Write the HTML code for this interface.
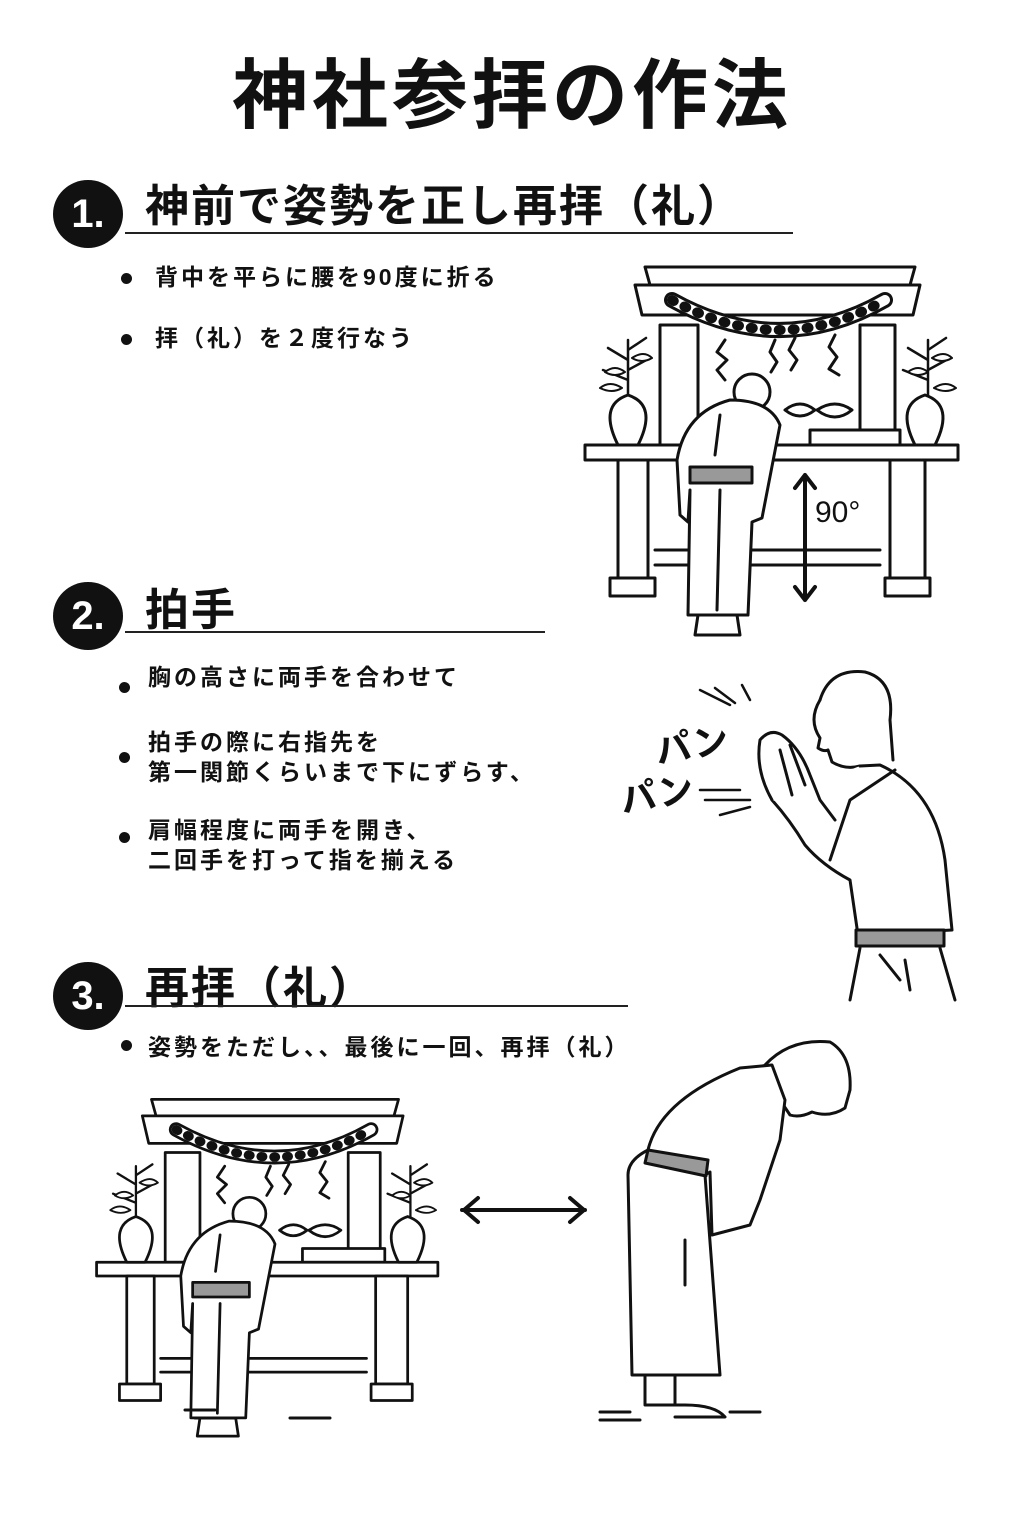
<!DOCTYPE html>
<html><head><meta charset="utf-8"><style>
body{margin:0;width:1024px;height:1536px;background:#fff;position:relative;overflow:hidden;font-family:"Liberation Sans","Noto Sans CJK JP",sans-serif;color:#111}
.t{position:absolute;white-space:nowrap}
.h1{left:0;width:1024px;text-align:center;top:34px;font-size:76px;font-weight:bold;letter-spacing:4px}
.num{position:absolute;width:70px;height:68px;border-radius:50%;background:#111;color:#fff;font-size:40px;font-weight:bold;text-align:center;line-height:68px}
.h2{font-size:44px;font-weight:bold;letter-spacing:2px}
.line{position:absolute;height:2px;background:#222}
.b{font-size:23px;font-weight:bold;letter-spacing:3px;line-height:30px}
.dot{position:absolute;width:11px;height:11px;border-radius:50%;background:#111}
svg{position:absolute;left:0;top:0}
</style></head><body>
<div class="t h1">神社参拝の作法</div>

<div class="num" style="left:53px;top:180px">1.</div>
<div class="t h2" style="left:145px;top:170px">神前で姿勢を正し再拝（礼）</div>
<div class="line" style="left:125px;top:232px;width:668px"></div>
<div class="dot" style="left:121px;top:273px"></div><div class="t b" style="left:155px;top:262px">背中を平らに腰を90度に折る</div>
<div class="dot" style="left:121px;top:334px"></div><div class="t b" style="left:155px;top:323px">拝（礼）を２度行なう</div>

<div class="num" style="left:53px;top:582px">2.</div>
<div class="t h2" style="left:145px;top:574px">拍手</div>
<div class="line" style="left:125px;top:631px;width:420px"></div>
<div class="dot" style="left:119px;top:682px"></div><div class="t b" style="left:148px;top:662px">胸の高さに両手を合わせて</div>
<div class="dot" style="left:119px;top:752px"></div><div class="t b" style="left:148px;top:727px">拍手の際に右指先を<br>第一関節くらいまで下にずらす、</div>
<div class="dot" style="left:119px;top:832px"></div><div class="t b" style="left:148px;top:815px">肩幅程度に両手を開き、<br>二回手を打って指を揃える</div>

<div class="num" style="left:53px;top:962px">3.</div>
<div class="t h2" style="left:145px;top:952px">再拝（礼）</div>
<div class="line" style="left:125px;top:1005px;width:503px"></div>
<div class="dot" style="left:121px;top:1040px"></div><div class="t b" style="left:148px;top:1032px">姿勢をただし、、最後に一回、再拝（礼）</div>

<svg width="1024" height="1536" viewBox="0 0 1024 1536" fill="none" stroke="#111" stroke-width="3" stroke-linecap="round" stroke-linejoin="round">
<defs>
<g id="shrine">
 <path d="M65 7 H335 L330 25 H70 Z" fill="#fff"/>
 <path d="M55 25 H340 L333 55 H62 Z" fill="#fff"/>
 <rect x="80" y="65" width="38" height="120" fill="#fff"/>
 <rect x="280" y="65" width="35" height="120" fill="#fff"/>
 <path d="M92 40 Q200 100 305 40" stroke-width="16" stroke="#111"/>
 <path d="M92 40 Q200 100 305 40" stroke-width="10" stroke="#fff"/>
 <path d="M92 40 Q200 100 305 40" stroke-width="10" stroke="#111" stroke-dasharray="2 12"/>
 <path d="M145 80 l-8 12 l10 8 l-10 10 l8 10 M195 80 l-5 12 l7 10 l-6 10 M215 78 l-6 12 l8 10 l-6 10 M255 75 l-6 12 l8 10 l-8 12 l10 6"/>
 <path d="M205 150 q15-12 30 0 q-15 12-30 0 M237 150 q18-12 35 0 q-17 14-35 0"/>
 <rect x="230" y="170" width="90" height="15" fill="#fff"/>
 <rect x="5" y="185" width="373" height="15" fill="#fff"/>
 <rect x="38" y="200" width="30" height="118" fill="#fff"/><rect x="310" y="200" width="35" height="118" fill="#fff"/>
 <path d="M30 318 h45 v18 h-45z M305 318 h45 v18 h-45z" fill="#fff"/>
 <path d="M75 290 H300 M75 305 H300"/>
 <path d="M38 185 q-20-40 10-50 q30 10 10 50 z" fill="#fff"/>
 <path d="M335 185 q-20-40 10-50 q30 10 10 50 z" fill="#fff"/>
 <path d="M48 135 V80 M48 120 l-25-10 M48 110 l22-12 M48 100 l-20-12 M48 90 l18-12 M348 135 V80 M348 120 l-25-10 M348 110 l22-12 M348 100 l-20-12 M348 90 l18-12" stroke-width="2.5"/>
 <path d="M25 112 q10-8 20 0 q-10 6-20 0 M52 98 q12-8 20 0 q-10 6-20 0 M328 112 q10-8 20 0 q-10 6-20 0 M352 98 q12-8 20 0 q-10 6-20 0 M20 128 q10-8 22 0 q-10 6-22 0 M354 128 q12-8 22 0 q-10 6-22 0" fill="#fff" stroke-width="2"/>
 <circle cx="172" cy="132" r="18" fill="#fff"/>
 <path d="M150 140 Q105 152 97 200 L100 255 L108 262 L110 230 L108 355 L168 355 L172 262 L182 258 L200 165 Q190 140 150 140 Z" fill="#fff"/>
 <rect x="110" y="207" width="62" height="16" fill="#999"/>
 <path d="M140 155 l-5 40 M140 230 l-3 120 M118 355 l-3 20 h45 l-3-20"/>
</g>
</defs>
<use href="#shrine" transform="translate(580,260)"/>
<path d="M805 475 V600 M795 488 l10-13 l10 13 M795 587 l10 13 l10-13" stroke-width="4"/>
<text x="815" y="522" font-size="30" fill="#111" stroke="none" font-family="Liberation Sans">90°</text>
<use href="#shrine" transform="translate(92,1093) scale(0.915)"/>

<path d="M820 700 Q830 668 865 672 Q895 680 890 720 L893 760" fill="none"/>
<path d="M820 700 Q808 720 820 738 L818 748 Q824 752 828 750 L832 762 Q845 770 860 766" />
<path d="M860 766 L880 765 Q935 790 945 860 L952 930 L858 935 L850 880 Q822 865 805 845 Q790 820 772 800" fill="#fff"/>
<path d="M772 800 Q755 770 760 740 Q770 728 782 735 Q800 748 810 775 L820 800 L835 820" fill="#fff"/>
<path d="M790 745 l15 40 M780 750 l12 45 M895 770 L850 800 L830 860"/>
<rect x="856" y="930" width="88" height="16" fill="#999"/>
<path d="M860 948 L850 1000 M940 948 L955 1000 M880 955 l20 25 M905 960 l5 30"/>
<path d="M700 690 l30 15 M715 688 l20 15 M742 685 l8 15 M700 790 h40 M705 800 h45 M720 815 l30-8" stroke-width="2.5"/>
<text x="655" y="758" font-size="36" font-weight="bold" fill="#111" stroke="none" transform="rotate(-10 690 745)" font-family="Noto Sans CJK JP">パン</text>
<text x="620" y="808" font-size="36" font-weight="bold" fill="#111" stroke="none" transform="rotate(-10 650 795)" font-family="Noto Sans CJK JP">パン</text>

<path d="M462 1210 H585 M478 1198 l-14 12 l14 12 M570 1198 l14 12 l-14 12" stroke-width="4"/>

<path d="M765 1065 Q790 1038 830 1042 Q852 1055 850 1090 L845 1108 Q830 1118 812 1112 Q800 1118 790 1115 L780 1100" fill="#fff"/>
<path d="M648 1150 Q660 1100 740 1068 L772 1065 L785 1100 L780 1140 L760 1200 L750 1225 L712 1235 L710 1172 L705 1175 L720 1375 L632 1375 L628 1175 Q628 1160 648 1150 Z" fill="#fff"/>
<path d="M648 1150 L708 1160 L706 1176 L645 1163 Z" fill="#999"/>
<path d="M645 1375 v30 h30 v-30 M675 1375 v30 h10 q30 0 40 12 h-50 M600 1412 h30 M600 1420 h40 M730 1412 h30 M685 1240 v45"/>
<path d="M195 1418 h40 M290 1418 h40 M185 1410 h30"/>
</svg>
</body></html>
